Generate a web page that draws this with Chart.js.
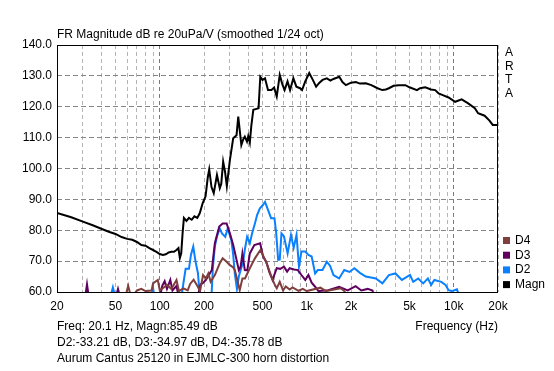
<!DOCTYPE html>
<html lang="en">
<head>
  <meta charset="UTF-8">
  <title>FR Magnitude - Aurum Cantus 25120 distortion</title>
  <style>
    html, body {
      margin: 0;
      padding: 0;
      background: #ffffff;
    }
    #wrap {
      position: relative;
      width: 554px;
      height: 371px;
    }
  </style>
</head>
<body>
  <div id="wrap">
    <canvas id="frChart" width="554" height="371"></canvas>
  </div>

  <script src="https://cdn.jsdelivr.net/npm/chart.js"></script>
  <script>
    // magnitude response (Hz / dB)
    const magnFreq = [20, 25, 30, 35, 40, 45, 50, 55, 60, 65, 70, 75, 80, 85, 90, 95, 100, 105, 110, 115, 120, 125, 130, 134, 137, 140, 143, 146, 152, 158, 165, 172, 180, 187, 196, 205, 212, 217, 225, 233, 245, 256, 262, 270, 278, 286, 300, 316, 333, 342, 359, 370, 379, 392, 400, 410, 420, 433, 455, 470, 483, 500, 520, 545, 575, 600, 625, 655, 680, 707, 740, 770, 811, 850, 900, 929, 977, 1040, 1100, 1158, 1220, 1281, 1370, 1450, 1520, 1664, 1750, 1847, 2000, 2158, 2300, 2522, 2750, 3030, 3267, 3450, 3620, 3900, 4230, 4690, 5000, 5620, 5900, 6400, 7000, 7480, 7890, 8500, 9220, 10220, 11320, 12540, 13910, 14640, 16220, 17500, 18420, 20000];
    const magnDb = [85.6, 84.2, 82.8, 81.6, 80.5, 79.5, 78.8, 77.8, 77.2, 76.9, 76.2, 75.2, 75.0, 74.2, 73.6, 73.0, 72.3, 72.0, 72.2, 72.8, 73.0, 73.0, 73.6, 74.2, 71.0, 72.5, 79.0, 84.0, 83.0, 84.0, 83.4, 84.5, 84.0, 85.5, 88.8, 91.0, 97.0, 99.7, 94.0, 92.0, 97.9, 93.6, 95.0, 102.2, 99.0, 94.3, 102.7, 109.8, 110.8, 116.8, 107.6, 109.5, 110.3, 108.7, 110.5, 108.4, 114.0, 119.0, 119.3, 119.5, 129.7, 128.7, 129.2, 125.4, 125.4, 126.2, 123.3, 130.3, 127.5, 125.4, 128.2, 125.4, 129.2, 126.5, 126.0, 125.4, 128.2, 130.9, 128.7, 126.5, 127.8, 128.7, 129.2, 128.5, 129.0, 129.7, 128.0, 127.0, 127.8, 128.0, 127.5, 127.6, 127.0, 126.0, 125.4, 125.6, 126.0, 126.8, 127.0, 127.0, 126.3, 125.4, 126.0, 126.3, 125.6, 125.4, 124.3, 123.7, 123.0, 121.6, 122.4, 121.1, 119.5, 117.9, 117.1, 115.5, 114.1, 114.1];

    // 2nd harmonic
    const d2Freq = [20, 46, 48, 50, 88, 90, 92, 140, 145, 150, 158, 163, 169, 175, 182, 187, 225, 230, 237, 245, 256, 265, 279, 290, 307, 316, 324, 335, 345, 369, 380, 393, 410, 425, 444, 460, 480, 500, 520, 545, 572, 603, 620, 639, 655, 673, 700, 741, 781, 815, 852, 885, 920, 977, 1026, 1080, 1140, 1190, 1280, 1370, 1440, 1520, 1660, 1800, 1950, 2110, 2300, 2520, 2730, 2950, 3270, 3620, 4010, 4440, 5040, 5300, 5730, 6200, 6670, 7020, 7380, 8220, 8800, 9220, 9700, 10520, 11000, 20000];
    const d2Db = [58, 58, 61.5, 58, 58, 61.5, 58, 58, 63, 67.5, 67.5, 72, 74.7, 70, 66, 59, 59, 68, 74.7, 78, 80.6, 79, 77.9, 80.6, 76.8, 72, 66, 61, 65, 69.8, 74, 77.9, 75.8, 79, 82.2, 85, 87.1, 88, 89.2, 86.6, 83.9, 83.9, 79, 70.4, 70.5, 79, 78, 72.5, 78.5, 74.3, 78.5, 68.2, 73.1, 73.1, 72, 71.5, 66, 67.1, 67.1, 69.8, 68.5, 65.5, 64.4, 67.1, 66.5, 67.7, 66.2, 65, 64.7, 64.4, 62.8, 65.5, 66, 63.9, 65.5, 63.3, 64.4, 62.8, 64.4, 62.3, 63.9, 63.3, 62.3, 60.6, 60.3, 60.9, 58, 58];

    // 3rd harmonic
    const d3Freq = [20, 31, 32, 33, 50, 52, 54, 100, 104, 108, 112, 118, 122, 130, 135, 180, 190, 197, 206, 226, 237, 254, 268, 285, 300, 316, 333, 345, 355, 365, 379, 394, 410, 440, 482, 505, 530, 555, 585, 625, 660, 700, 735, 765, 820, 870, 920, 977, 1026, 1080, 1140, 1200, 1400, 1660, 1900, 2150, 2350, 2600, 2800, 2900, 20000];
    const d3Db = [58, 58, 62.5, 58, 58, 61, 58, 58, 62, 63.5, 61, 63.9, 60.5, 62, 58, 58, 62.5, 62.9, 63.9, 67.1, 75.8, 81.2, 82.2, 82.2, 79, 75.2, 70.4, 67.1, 68.2, 72.5, 67.1, 67, 72.5, 75.2, 75.8, 71.4, 69.8, 66.6, 63.9, 67.7, 67.5, 68.2, 66.6, 67.7, 67.3, 67.1, 65.5, 63.9, 65.5, 63, 61.7, 60.3, 60.6, 61.7, 60.5, 61.9, 60.5, 61, 60.5, 58, 58];

    // 4th harmonic
    const d4Freq = [20, 58, 61, 64, 70, 75, 80, 88, 90, 97, 100, 105, 112, 120, 130, 135, 145, 155, 161, 170, 180, 188, 197, 206, 214, 222, 237, 256, 268, 285, 300, 315, 324, 335, 350, 365, 380, 410, 444, 484, 510, 540, 570, 600, 625, 655, 690, 720, 765, 800, 880, 940, 1000, 1240, 1350, 1700, 1800, 1900, 20000];
    const d4Db = [58, 58, 62, 58, 60.5, 61, 60.3, 60.5, 62.8, 63.9, 60.6, 61.2, 62.3, 61, 63.9, 60.3, 61.2, 60.5, 62.6, 64, 62, 60.3, 65.5, 64.4, 66, 63.3, 65.5, 69.3, 70.9, 69.8, 68.7, 68, 67.1, 64.4, 60.6, 64.4, 64.4, 67.7, 70.9, 73.6, 71.4, 68.7, 65.5, 62.8, 61.2, 63.3, 60.5, 61.8, 60.8, 61.5, 60.4, 61, 60.3, 61.4, 60.3, 61.2, 60.3, 58, 58];

    // axes
    const gridFreqs = [20, 30, 40, 50, 60, 70, 80, 90, 100, 200, 300, 400, 500, 600, 700, 800, 900, 1000, 2000, 3000, 4000, 5000, 6000, 7000, 8000, 9000, 10000, 20000];
    const freqLabels = { 20: '20', 50: '50', 100: '100', 200: '200', 500: '500', 1000: '1k', 2000: '2k', 5000: '5k', 10000: '10k', 20000: '20k' };
    const decadeLines = [100, 1000, 10000];

    const FONT = 'Arial, "Liberation Sans", sans-serif';

    function pairs(xs, ys) {
      return xs.map((x, i) => ({ x: x, y: ys[i] }));
    }

    // frame drawn under the traces, texts and legend on top
    const artaDecor = {
      id: 'artaDecor',
      beforeDatasetsDraw(chart) {
        const { ctx, chartArea: a } = chart;
        ctx.save();
        ctx.strokeStyle = '#000';
        ctx.lineWidth = 1;
        ctx.strokeRect(a.left + 0.5, a.top + 0.5, a.right - a.left - 1, a.bottom - a.top);
        ctx.restore();
      },
      afterDraw(chart) {
        const { ctx, chartArea: a } = chart;
        ctx.save();
        ctx.fillStyle = '#000';
        ctx.font = '12px ' + FONT;
        ctx.textBaseline = 'middle';
        ctx.textAlign = 'left';
        ctx.fillText('FR Magnitude dB re 20uPa/V (smoothed 1/24 oct)', a.left, 35);

        ctx.fillText('Freq: 20.1 Hz, Magn:85.49 dB', a.left, 327);
        ctx.fillText('D2:-33.21 dB, D3:-34.97 dB, D4:-35.78 dB', a.left, 343);
        ctx.fillText('Aurum Cantus 25120 in EJMLC-300 horn distortion', a.left, 359);
        ctx.textAlign = 'right';
        ctx.fillText('Frequency (Hz)', a.right, 327);

        // ARTA, vertical
        ctx.textAlign = 'left';
        ['A', 'R', 'T', 'A'].forEach((ch, i) => {
          ctx.fillText(ch, a.right + 7, 53 + i * 13.5);
        });

        // legend
        const items = [chart.data.datasets[1], chart.data.datasets[2], chart.data.datasets[3], chart.data.datasets[0]];
        items.forEach((ds, i) => {
          const y = 240 + i * 14.7;
          ctx.fillStyle = ds.borderColor;
          ctx.fillRect(a.right + 5, y - 3, 7, 7);
          ctx.fillStyle = '#000';
          ctx.fillText(ds.label, a.right + 17, y + 0.5);
        });
        ctx.restore();
      }
    };

    const ctx = document.getElementById('frChart').getContext('2d');

    new Chart(ctx, {
      type: 'line',
      data: {
        datasets: [
          { label: 'Magn', data: pairs(magnFreq, magnDb), borderColor: '#000000' },
          { label: 'D4', data: pairs(d4Freq, d4Db), borderColor: '#7f3f3f' },
          { label: 'D3', data: pairs(d3Freq, d3Db), borderColor: '#5f005f' },
          { label: 'D2', data: pairs(d2Freq, d2Db), borderColor: '#0a80ff' }
        ]
      },
      options: {
        responsive: false,
        animation: false,
        devicePixelRatio: 1,
        layout: { padding: { left: 0, top: 45, right: 56, bottom: 0 } },
        elements: {
          point: { radius: 0 },
          line: { borderWidth: 2, tension: 0, fill: false }
        },
        plugins: {
          legend: { display: false },
          tooltip: { enabled: false }
        },
        scales: {
          x: {
            type: 'logarithmic',
            min: 20,
            max: 20000,
            afterBuildTicks(scale) {
              scale.ticks = gridFreqs.map(v => ({ value: v }));
            },
            afterFit(scale) { scale.height = 79; },
            grid: {
              drawTicks: false,
              color: c => (c.tick && decadeLines.includes(c.tick.value)) ? '#7a7a7a' : '#b4b4b4'
            },
            border: { display: false, dash: [4, 3] },
            ticks: {
              autoSkip: false,
              maxRotation: 0,
              padding: 7,
              color: '#000',
              font: { family: FONT, size: 12 },
              callback: v => freqLabels[v] || ''
            }
          },
          y: {
            min: 60,
            max: 140,
            afterFit(scale) { scale.width = 57; },
            grid: { drawTicks: false, color: '#858585' },
            border: { display: false, dash: [5, 3] },
            ticks: {
              stepSize: 10,
              padding: 5,
              color: '#000',
              font: { family: FONT, size: 12 },
              callback: v => v.toFixed(1)
            }
          }
        }
      },
      plugins: [artaDecor]
    });
  </script>
</body>
</html>
